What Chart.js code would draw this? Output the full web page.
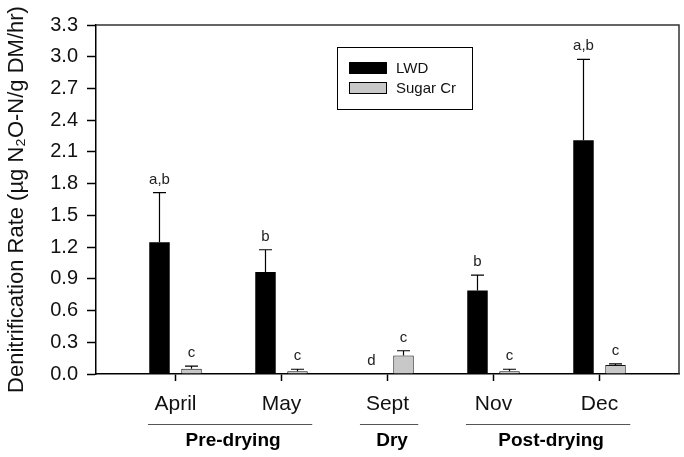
<!DOCTYPE html>
<html lang="en">
<head>
    <meta charset="UTF-8">
    <title>Denitrification Rate</title>
    <script src="https://cdn.jsdelivr.net/npm/chart.js"></script>
    <style>
        body { margin: 0; background: #fff; }
        #wrap { width: 684px; height: 457px; position: relative; }
    </style>
</head>
<body>
    <div id="wrap"><canvas id="chart"></canvas></div>

    <script>
        const months = ['April', 'May', 'Sept', 'Nov', 'Dec'];
        const lwd = [1.245, 0.965, 0, 0.79, 2.21];
        const lwdErr = [0.47, 0.21, 0, 0.145, 0.765];
        const sugar = [0.05, 0.025, 0.175, 0.025, 0.085];
        const sugarErr = [0.025, 0.02, 0.045, 0.02, 0.01];
        const lwdLetters = ['a,b', 'b', 'd', 'b', 'a,b'];
        const sugarLetters = ['c', 'c', 'c', 'c', 'c'];
        const yTicks = [0, 0.3, 0.6, 0.9, 1.2, 1.5, 1.8, 2.1, 2.4, 2.7, 3.0, 3.3];
        const groupNames = ['Pre-drying', 'Dry', 'Post-drying'];
        const groupFirst = [0, 2, 3];
        const groupLast = [1, 2, 4];

        const FONT = '"Liberation Sans", Arial, sans-serif';

        // frame on top and right
        const framePlugin = {
            id: 'frame',
            afterDatasetsDraw(chart) {
                const a = chart.chartArea, ctx = chart.ctx;
                ctx.save();
                ctx.strokeStyle = '#333';
                ctx.lineWidth = 1.5;
                ctx.beginPath();
                ctx.moveTo(a.left, a.top);
                ctx.lineTo(a.right, a.top);
                ctx.lineTo(a.right, a.bottom);
                ctx.stroke();
                ctx.restore();
            }
        };

        // upper error bars + letters
        const errPlugin = {
            id: 'errbars',
            afterDatasetsDraw(chart) {
                const ctx = chart.ctx, y = chart.scales.y;
                ctx.save();
                chart.data.datasets.forEach((ds, di) => {
                    const meta = chart.getDatasetMeta(di);
                    meta.data.forEach((bar, i) => {
                        const v = ds.data[i].y, e = ds.errors[i];
                        const top = y.getPixelForValue(v + e);
                        if (e > 0) {
                            ctx.strokeStyle = '#000';
                            ctx.lineWidth = 1.2;
                            ctx.beginPath();
                            ctx.moveTo(bar.x, bar.y);
                            ctx.lineTo(bar.x, top);
                            ctx.moveTo(bar.x - 6.5, top);
                            ctx.lineTo(bar.x + 6.5, top);
                            ctx.stroke();
                        }
                        ctx.fillStyle = '#222';
                        ctx.font = '15px ' + FONT;
                        ctx.textAlign = 'center';
                        ctx.textBaseline = 'alphabetic';
                        ctx.fillText(ds.letters[i], bar.x, top - 9);
                    });
                });
                ctx.restore();
            }
        };

        // boxed legend inside plot
        const legendPlugin = {
            id: 'boxLegend',
            afterDraw(chart) {
                const a = chart.chartArea, ctx = chart.ctx;
                const x0 = a.left + 241, y0 = a.top + 22;
                ctx.save();
                ctx.strokeStyle = '#000';
                ctx.lineWidth = 1;
                ctx.strokeRect(x0 + 0.5, y0 + 0.5, 135, 62);
                chart.data.datasets.forEach((ds, i) => {
                    const sy = y0 + 15 + i * 20;
                    ctx.fillStyle = ds.backgroundColor;
                    ctx.fillRect(x0 + 12, sy, 38, 12);
                    ctx.strokeStyle = '#000';
                    ctx.strokeRect(x0 + 12.5, sy + 0.5, 37, 11);
                    ctx.fillStyle = '#111';
                    ctx.font = '15px ' + FONT;
                    ctx.textAlign = 'left';
                    ctx.textBaseline = 'middle';
                    ctx.fillText(ds.label, x0 + 59, sy + 6.5);
                });
                ctx.restore();
            }
        };

        // period groups under the month labels
        const groupPlugin = {
            id: 'groups',
            afterDraw(chart) {
                const x = chart.scales.x, ctx = chart.ctx, b = chart.chartArea.bottom;
                ctx.save();
                groupNames.forEach((name, g) => {
                    const x1 = x.getPixelForValue(groupFirst[g] - 0.26);
                    const x2 = x.getPixelForValue(groupLast[g] + 0.29);
                    ctx.strokeStyle = '#555';
                    ctx.lineWidth = 1;
                    ctx.beginPath();
                    ctx.moveTo(x1, b + 50.5);
                    ctx.lineTo(x2, b + 50.5);
                    ctx.stroke();
                    ctx.fillStyle = '#000';
                    ctx.font = 'bold 19px ' + FONT;
                    ctx.textAlign = 'center';
                    ctx.textBaseline = 'middle';
                    ctx.fillText(name, (x1 + x2) / 2 + 3, b + 67);
                });
                ctx.restore();
            }
        };

        new Chart(document.getElementById('chart'), {
            type: 'bar',
            data: {
                datasets: [{
                    label: 'LWD',
                    data: lwd.map((v, i) => ({ x: i, y: v })),
                    errors: lwdErr,
                    letters: lwdLetters,
                    backgroundColor: '#000000',
                    borderColor: '#000000',
                    borderWidth: 0
                }, {
                    label: 'Sugar Cr',
                    data: sugar.map((v, i) => ({ x: i, y: v })),
                    errors: sugarErr,
                    letters: sugarLetters,
                    backgroundColor: '#c8c8c8',
                    borderColor: '#111111',
                    borderWidth: 1,
                    borderSkipped: 'bottom'
                }]
            },
            options: {
                responsive: true,
                maintainAspectRatio: false,
                animation: false,
                categoryPercentage: 0.604,
                barPercentage: 0.64,
                layout: { padding: { top: 25, right: 5, left: 0, bottom: 0 } },
                plugins: {
                    legend: { display: false },
                    tooltip: { enabled: false }
                },
                scales: {
                    x: {
                        type: 'linear',
                        min: -0.75,
                        max: 4.75,
                        offset: false,
                        afterBuildTicks: s => { s.ticks = months.map((m, i) => ({ value: i })); },
                        afterFit: s => { s.height = 83; },
                        grid: { offset: false, drawOnChartArea: false, tickLength: 7, color: '#000', tickWidth: 1.5 },
                        border: { display: true, color: '#000', width: 1.5 },
                        ticks: {
                            callback: v => months[v],
                            color: '#111',
                            padding: 11,
                            maxRotation: 0,
                            font: { family: FONT, size: 21 }
                        }
                    },
                    y: {
                        min: 0,
                        max: 3.3,
                        afterBuildTicks: s => { s.ticks = yTicks.map(v => ({ value: v })); },
                        afterFit: s => { s.width = 96; },
                        grid: { drawOnChartArea: false, tickLength: 9, color: '#000', tickWidth: 1.5 },
                        border: { display: true, color: '#000', width: 1.5 },
                        ticks: {
                            callback: v => v.toFixed(1),
                            color: '#111',
                            padding: 9,
                            font: { family: FONT, size: 20 }
                        },
                        title: {
                            display: true,
                            text: 'Denitrification Rate (\u00b5g N\u2082O-N/g DM/hr)',
                            color: '#111',
                            font: { family: FONT, size: 22 }
                        }
                    }
                }
            },
            plugins: [framePlugin, errPlugin, legendPlugin, groupPlugin]
        });
    </script>
</body>
</html>
